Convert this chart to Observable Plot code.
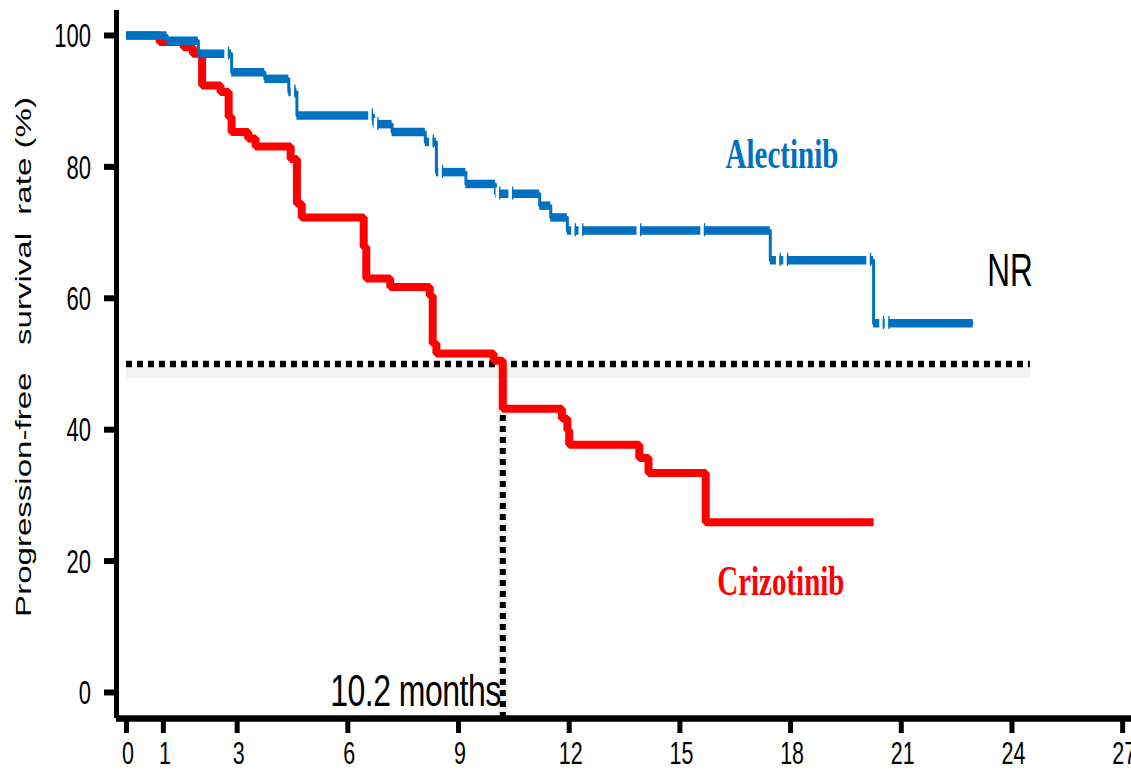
<!DOCTYPE html>
<html><head><meta charset="utf-8">
<script src="https://cdn.jsdelivr.net/npm/d3@7"></script>
<script src="https://cdn.jsdelivr.net/npm/@observablehq/plot@0.6"></script>
<style>body{margin:0;background:#fff;} #chart svg{display:block;}</style>
</head><body><div id="chart"></div>
<script>
// Kaplan–Meier step data (months, % progression-free)
const alectinibTime = [0, 1.1, 1.95, 2.85, 3.75, 4.4, 4.62, 6.7, 7.2, 8.1, 8.4, 9.2, 10.0, 11.2, 11.5, 11.95, 17.45, 20.25, 22.95];
const alectinibSurv = [100, 99.2, 97.2, 94.4, 93.4, 91.4, 87.8, 86.5, 85.3, 83.8, 79.2, 77.4, 75.9, 74.1, 72.3, 70.3, 65.8, 56.2, 56.2];
const alectinibCensorTime = [2.7, 4.5, 6.6, 6.75, 8.25, 8.5, 10.05, 10.4, 12.1, 12.3, 13.87, 15.6, 17.65, 17.85, 20.1, 20.45, 20.6];
const alectinibCensorSurv = [97.2, 91.4, 87.8, 86.5, 83.8, 79.2, 75.9, 75.9, 70.3, 70.3, 70.3, 70.3, 65.8, 65.8, 65.8, 56.2, 56.2];
const crizotinibTime = [0, 0.9, 1.55, 1.8, 2.05, 2.55, 2.77, 2.85, 3.3, 3.5, 4.45, 4.62, 4.75, 6.43, 6.5, 7.15, 8.22, 8.3, 8.4, 9.95, 10.2, 11.8, 11.95, 12.0, 13.9, 14.15, 15.7, 20.25];
const crizotinibSurv = [100, 99.0, 98.2, 97.2, 92.4, 91.4, 87.6, 85.3, 84.3, 83.1, 81.2, 74.4, 72.3, 67.8, 63.0, 61.7, 60.4, 53.1, 51.6, 50.5, 43.2, 41.7, 39.9, 37.7, 35.7, 33.4, 25.9, 25.9];
const medianTime = [10.2];
const medianLevel = [50];
const referenceEnd = [24.5];
const xTicks = [0, 1, 3, 6, 9, 12, 15, 18, 21, 24, 27];
const yTicks = [0, 20, 40, 60, 80, 100];
const seriesNames = ["Alectinib", "Crizotinib"];
const seriesColors = ["#0070C0", "#FF0000"];
const seriesLabelX = [17.78, 17.75];
const seriesLabelY = [81.8, 16.8];
const nrLabel = ["NR", 23.96, 64.4];
const medianLabel = ["10.2 months", 10.13, 0.3];
const yTitle = "Progression-free\u00a0\u00a0\u00a0survival\u00a0\u00a0rate\u00a0(%)";

const alectinib = alectinibTime.map((t, i) => ({t, s: alectinibSurv[i]}));
const crizotinib = crizotinibTime.map((t, i) => ({t, s: crizotinibSurv[i]}));
const alectinibSegs = alectinib.slice(0, -1).map((d, i) => ({t0: d.t, t1: alectinib[i + 1].t, s: d.s}));
const censors = alectinibCensorTime.map((t, i) => ({t, s: alectinibCensorSurv[i]}));
const labels = seriesNames.map((name, i) => ({name, x: seriesLabelX[i], y: seriesLabelY[i], color: seriesColors[i]}));

const W = 1131, H = 774, ML = 116, MR = 0, MT = 10, MB = 56;
const xDomain = [-0.27, 27.24];
const yDomain = [-3.96, 103.8];
const sans = "'Liberation Sans', Arial, sans-serif";
const serif = "'Liberation Serif', 'Times New Roman', serif";

const chart = Plot.plot({
  width: W, height: H,
  marginLeft: ML, marginRight: MR, marginTop: MT, marginBottom: MB,
  x: {domain: xDomain},
  y: {domain: yDomain},
  style: {background: "white", fontFamily: sans, overflow: "hidden"},
  marks: [
    // 50% reference: soft shadow + dotted lines
    Plot.ruleY(medianLevel, {x1: 0, x2: referenceEnd[0], stroke: "#000", strokeOpacity: 0.045, strokeWidth: 12, dy: 8}),
    Plot.ruleY(medianLevel, {x1: 0, x2: referenceEnd[0], stroke: "#000", strokeWidth: 6.5, strokeDasharray: "6,5"}),
    Plot.ruleX(medianTime, {y1: yDomain[0], y2: medianLevel[0], stroke: "#000", strokeOpacity: 0.05, strokeWidth: 12}),
    Plot.ruleX(medianTime, {y1: yDomain[0], y2: medianLevel[0], stroke: "#000", strokeWidth: 6, strokeDasharray: "6,5"}),
    // Crizotinib
    Plot.line(crizotinib, {x: "t", y: "s", curve: "step-after", stroke: seriesColors[1], strokeWidth: 8, strokeLinejoin: "miter", strokeLinecap: "butt"}),
    // Alectinib: thin risers, thick horizontals
    Plot.line(alectinib, {x: "t", y: "s", curve: "step-after", stroke: seriesColors[0], strokeWidth: 3, strokeLinecap: "butt"}),
    Plot.ruleY(alectinibSegs, {y: "s", x1: "t0", x2: "t1", stroke: seriesColors[0], strokeWidth: 8.5}),
    // censor marks
    Plot.ruleX(censors, {x: "t", y1: d => d.s - 0.85, y2: d => d.s + 0.85, stroke: "white", strokeWidth: 3.5}),
    Plot.ruleX(censors, {x: "t", y1: d => d.s - 0.95, y2: d => d.s + 1.05, stroke: seriesColors[0], strokeWidth: 1.3, dx: 2.5}),
    // axes
    Plot.ruleX([xDomain[0]], {stroke: "#000", strokeWidth: 5}),
    Plot.ruleY([yDomain[0]], {stroke: "#000", strokeWidth: 6.5}),
    Plot.axisY(yTicks, {tickSize: 12, tickPadding: 13, strokeWidth: 6, label: null, fill: "#000"}),
    Plot.axisX(xTicks, {tickSize: 15, tickPadding: 10, strokeWidth: 5, label: null, fill: "#000"}),
    // annotations
    Plot.text(labels, {x: "x", y: "y", text: "name", fill: "color"}),
    Plot.text([nrLabel], {x: d => d[1], y: d => d[2], text: d => d[0], fill: "#000"}),
    Plot.text([medianLabel], {x: d => d[1], y: d => d[2], text: d => d[0], fill: "#000", textAnchor: "end"}),
    Plot.text([yTitle], {frameAnchor: "left", textAnchor: "middle", rotate: -90, dx: -94, dy: -7, fill: "#000"})
  ]
});
document.getElementById("chart").appendChild(chart);

// pixel position helpers (same linear mapping as the chart's scales)
const px = v => ML + (v - xDomain[0]) / (xDomain[1] - xDomain[0]) * (W - ML - MR);
const py = v => MT + (yDomain[1] - v) / (yDomain[1] - yDomain[0]) * (H - MT - MB);

// Typography: the original figure is vertically stretched, so text is scaled per element.
function restyle(t, {size, family, weight, sx = 1, sy = 1, ls}) {
  t.style.fontSize = size + "px";
  t.style.fontFamily = family;
  if (weight) t.style.fontWeight = weight;
  if (ls != null) t.style.letterSpacing = ls;
  const x = +t.getAttribute("x") || 0, y = +t.getAttribute("y") || 0;
  const tr = t.getAttribute("transform") || "";
  t.setAttribute("x", 0); t.setAttribute("y", 0);
  t.setAttribute("transform", `${tr} translate(${x},${y}) scale(${sx},${sy})`);
}
// shift so that the ink box (estimated from font metrics) lands on the target
function place(t, {cx, cy, right, top, capTopRatio, capRatio, size, sy}) {
  const b = t.getBoundingClientRect();
  const capTop = b.top + capTopRatio * size * sy;
  const capH = capRatio * size * sy;
  let dx = 0, dy = 0;
  if (cx != null) dx = cx - (b.left + b.width / 2);
  if (right != null) dx = right - b.right;
  if (cy != null) dy = cy - (capTop + capH / 2);
  if (top != null) dy = top - capTop;
  t.setAttribute("transform", `translate(${dx},${dy}) ` + t.getAttribute("transform"));
}
const SANS = {capTopRatio: 0.905 - 0.716, capRatio: 0.716};
const SERIF = {capTopRatio: 0.891 - 0.662, capRatio: 0.662};

const texts = [...chart.querySelectorAll("text")];
texts.forEach(t => {
  const s = t.textContent;
  const anchor = getComputedStyle(t).textAnchor;
  if (s === "Alectinib" || s === "Crizotinib") {
    const o = {size: 29, family: serif, weight: "bold", sy: 1.43};
    restyle(t, o);
    const i = seriesNames.indexOf(s);
    place(t, {...SERIF, ...o, cx: px(seriesLabelX[i]), cy: py(seriesLabelY[i])});
  } else if (s === "NR") {
    const o = {size: 31.5, family: sans, sy: 1.48};
    restyle(t, o);
    place(t, {...SANS, ...o, cx: px(nrLabel[1]), cy: py(nrLabel[2])});
  } else if (s === "10.2 months") {
    const o = {size: 32, family: sans, sy: 1.38, ls: "-0.5px"};
    restyle(t, o);
    place(t, {...SANS, ...o, right: px(medianLabel[1]) + 1, cy: py(medianLabel[2])});
  } else if (s === yTitle) {
    restyle(t, {size: 22.5, family: sans, sx: 1.47});
    const b = t.getBoundingClientRect();
    t.setAttribute("transform", `translate(${23 - (b.left + b.width / 2)},${357 - (b.top + b.height / 2)}) ` + t.getAttribute("transform"));
  } else if (yTicks.map(String).includes(s) && anchor === "end") {
    const o = {size: 22, family: sans, sy: 1.55};
    restyle(t, o);
    place(t, {...SANS, ...o, right: 91, cy: py(+s)});
  } else if (xTicks.map(String).includes(s)) {
    const o = {size: 21.5, family: sans, sy: 1.45};
    restyle(t, o);
    place(t, {...SANS, ...o, cx: px(+s) + 2, top: 742});
  }
});
</script>
</body></html>
